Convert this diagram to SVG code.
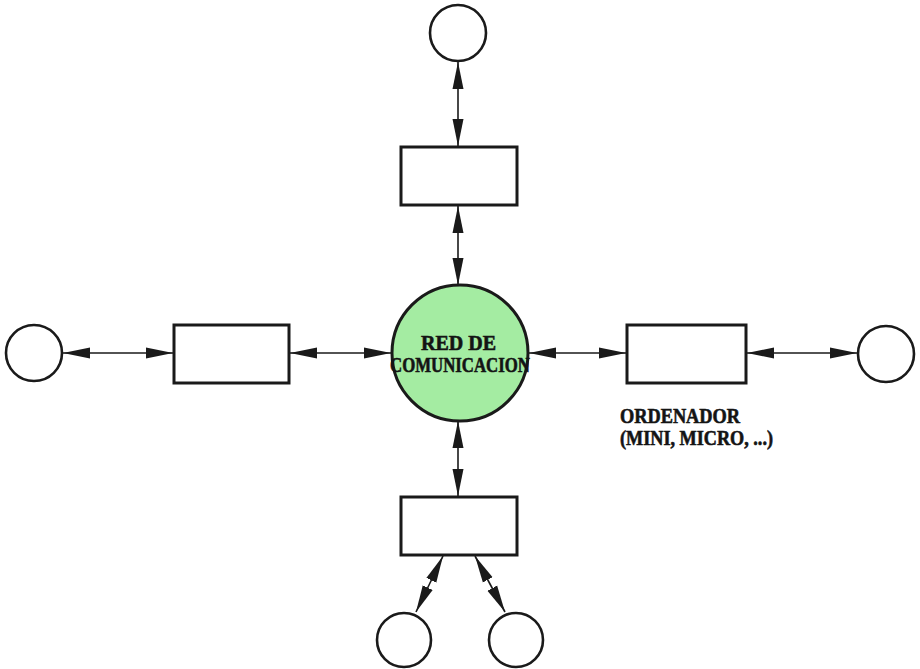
<svg xmlns="http://www.w3.org/2000/svg" width="920" height="669" viewBox="0 0 920 669">
  <style>
    .box { fill: #ffffff; stroke: #1a1a1a; stroke-width: 3; }
    .term { fill: #ffffff; stroke: #1a1a1a; stroke-width: 2.6; }
    .net { fill: #a4eca2; stroke: #1a1a1a; stroke-width: 3; }
    .link { stroke: #1a1a1a; stroke-width: 1.6; fill: none; marker-start: url(#head); marker-end: url(#head); }
    .lbl { font-family: "Liberation Serif", "Times New Roman", serif; font-weight: bold; font-size: 21px; fill: #141414; stroke: #141414; stroke-width: 0.6; }
  </style>
  <defs>
    <marker id="head" markerUnits="userSpaceOnUse" markerWidth="28" markerHeight="12" refX="27" refY="6" orient="auto-start-reverse" viewBox="0 0 28 12">
      <path d="M0,0.5 L27,6 L0,11.5 z" fill="#1a1a1a"/>
    </marker>
  </defs>
  <rect width="920" height="669" fill="#ffffff"/>

  <!-- connectors -->
  <g id="connectors">
    <line class="link" x1="458" y1="62" x2="458" y2="146"/>
    <line class="link" x1="458" y1="206" x2="458" y2="285"/>
    <line class="link" x1="63" y1="353" x2="173" y2="353"/>
    <line class="link" x1="290" y1="353" x2="391" y2="353"/>
    <line class="link" x1="529" y1="353" x2="626" y2="353"/>
    <line class="link" x1="747" y1="353" x2="857" y2="353"/>
    <line class="link" x1="458" y1="421" x2="458" y2="496"/>
    <line class="link" x1="443" y1="556" x2="416" y2="612"/>
    <line class="link" x1="475" y1="556" x2="505" y2="612"/>
  </g>

  <!-- top branch -->
  <g id="term-top"><circle class="term" cx="458" cy="33" r="28"/></g>
  <g id="box-top"><rect class="box" x="401" y="147" width="116" height="58"/></g>

  <!-- left branch -->
  <g id="term-left"><circle class="term" cx="34" cy="353" r="28"/></g>
  <g id="box-left"><rect class="box" x="174" y="325" width="115" height="58"/></g>

  <!-- right branch -->
  <g id="box-right"><rect class="box" x="627" y="325" width="119" height="58"/></g>
  <g id="term-right"><circle class="term" cx="886" cy="354" r="28"/></g>
  <g id="label-right">
    <text class="lbl" x="620" y="423" textLength="120" lengthAdjust="spacingAndGlyphs">ORDENADOR</text>
    <text class="lbl" x="620" y="445" textLength="153" lengthAdjust="spacingAndGlyphs">(MINI, MICRO, ...)</text>
  </g>

  <!-- central network -->
  <g id="network">
    <circle class="net" cx="460" cy="353" r="68"/>
    <text class="lbl" x="421" y="350" textLength="75" lengthAdjust="spacingAndGlyphs">RED DE</text>
    <text class="lbl" x="390" y="372" textLength="140" lengthAdjust="spacingAndGlyphs">COMUNICACION</text>
  </g>

  <!-- bottom branch -->
  <g id="box-bottom"><rect class="box" x="401" y="497" width="116" height="58"/></g>
  <g id="term-bottom-left"><circle class="term" cx="404" cy="640" r="27"/></g>
  <g id="term-bottom-right"><circle class="term" cx="516" cy="640" r="27"/></g>
</svg>
